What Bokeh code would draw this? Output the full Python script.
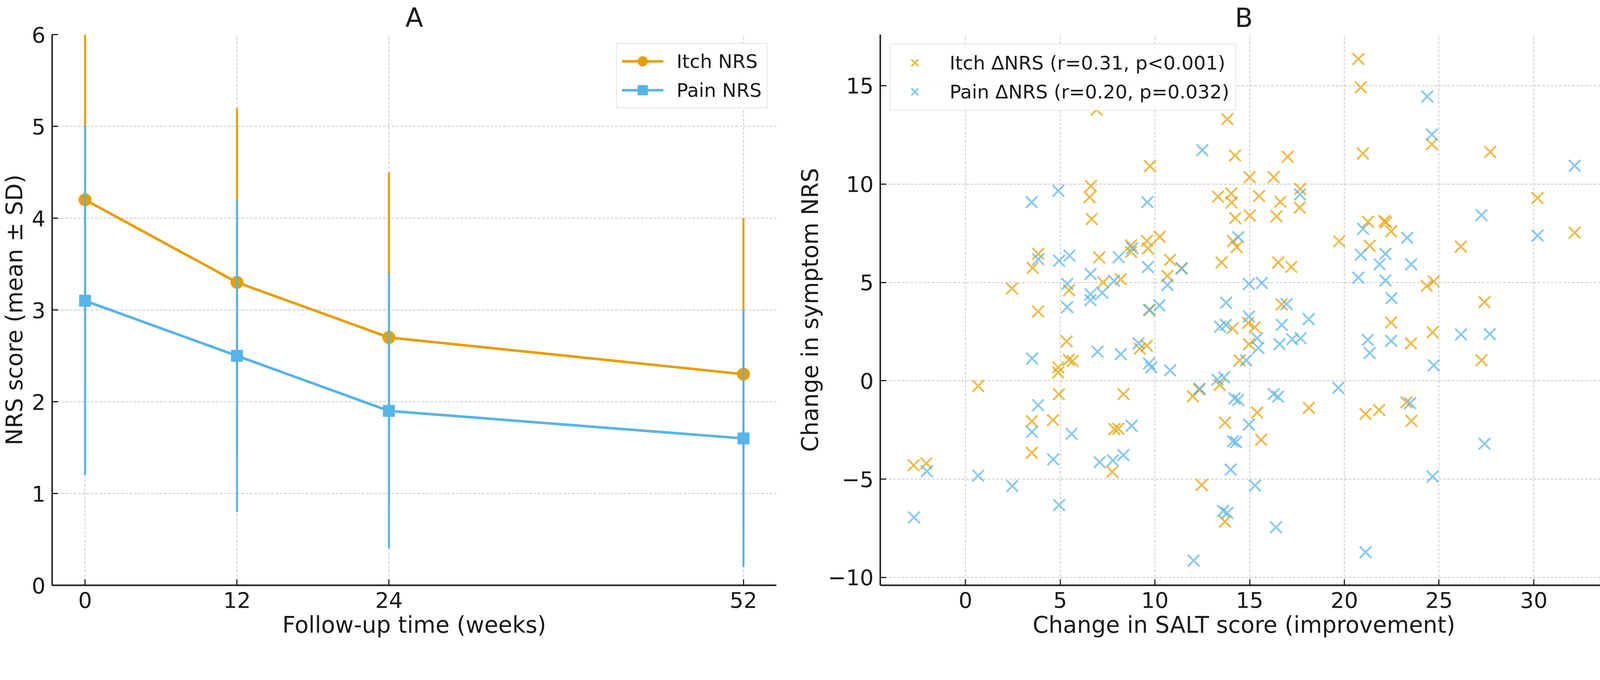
import math
from bokeh.plotting import figure
from bokeh.models import Range1d, Legend, LegendItem, FixedTicker, ColumnDataSource
from bokeh.layouts import row
from bokeh.embed import file_html
from bokeh.resources import INLINE

# ---------------- data ----------------
weeks = [0, 12, 24, 52]
itch_mean = [4.2, 3.3, 2.7, 2.3]
itch_sd = [2.0, 1.9, 1.8, 1.7]
pain_mean = [3.1, 2.5, 1.9, 1.6]
pain_sd = [1.9, 1.7, 1.5, 1.4]

itch_salt = [20.74, 20.87, 6.92, 13.82, 14.23, 20.98, 17.01, 24.62, 27.71, 9.74,
             15.0, 16.27, 6.62, 6.55, 13.33, 14.03, 14.05, 15.5, 16.62, 17.67,
             17.64, 30.2, 6.66, 14.24, 15.01, 16.42, 22.12, 22.2, 21.25, 22.47,
             32.16, 19.73, 10.25, 9.58, 8.74, 9.63, 14.12, 14.32, 21.34, 26.15,
             3.84, 3.54, 7.06, 8.74, 10.8, 11.41, 13.52, 16.51, 17.2, 10.66,
             8.2, 2.45, 7.27, 5.47, 24.35, 24.72, 27.4, 16.69, 3.83, 9.73,
             14.1, 14.92, 15.27, 22.47, 24.66, 23.52, 5.34, 9.2, 9.57, 14.97,
             5.45, 5.66, 14.47, 4.9, 4.89, 27.24, 0.67, 4.93, 8.34, 12.0,
             12.34, 13.42, 23.28, 18.13, 15.4, 21.12, 21.84, 3.5, 4.62, 13.7,
             23.54, 7.86, 8.07, 3.5, 15.61, -2.74, -2.07, 7.75, 12.47, 13.7]
itch_dnrs = [16.36, 14.92, 13.78, 13.3, 11.45, 11.55, 11.39, 12.03, 11.63, 10.91,
             10.35, 10.35, 9.9, 9.33, 9.36, 9.52, 9.06, 9.39, 9.1, 9.75,
             8.8, 9.29, 8.22, 8.27, 8.4, 8.36, 8.12, 8.05, 8.08, 7.6,
             7.53, 7.09, 7.32, 7.11, 6.88, 6.73, 7.1, 6.8, 6.86, 6.82,
             6.45, 5.74, 6.27, 6.55, 6.15, 5.72, 6.01, 6.01, 5.79, 5.33,
             5.16, 4.69, 5.0, 4.6, 4.82, 5.05, 4.0, 3.88, 3.52, 3.6,
             2.67, 2.94, 2.72, 2.96, 2.46, 1.9, 2.0, 1.63, 1.78, 1.86,
             1.06, 1.0, 1.03, 0.68, 0.42, 1.04, -0.27, -0.69, -0.68, -0.8,
             -0.45, -0.21, -1.1, -1.38, -1.62, -1.69, -1.49, -2.06, -2.0, -2.13,
             -2.04, -2.46, -2.44, -3.66, -3.0, -4.3, -4.2, -4.63, -5.3, -7.16]

pain_salt = [24.38, 24.62, 12.5, 32.16, 4.9, 3.49, 9.6, 17.66, 27.24, 30.2,
             20.99, 23.32, 14.4, 8.8, 3.84, 4.94, 5.49, 8.09, 20.87, 22.17,
             21.86, 23.53, 9.63, 11.41, 6.6, 20.74, 22.17, 5.37, 7.84, 14.96,
             15.64, 10.66, 6.6, 7.22, 6.6, 22.49, 13.76, 16.95, 5.37, 10.24,
             9.69, 14.96, 18.12, 13.44, 13.75, 16.7, 26.16, 27.68, 15.4, 17.25,
             17.69, 21.24, 22.47, 15.46, 16.58, 9.14, 3.52, 6.97, 8.2, 21.34,
             14.82, 9.69, 9.81, 10.8, 24.72, 13.3, 13.65, 19.68, 16.27, 16.5,
             14.2, 14.4, 23.47, 3.83, 3.51, 5.6, 8.77, 14.96, 14.12, 14.28,
             27.4, 4.63, 7.08, 7.78, 8.33, 14.0, 0.67, -2.04, 24.66, 2.47,
             15.28, 4.94, -2.72, 13.6, 13.82, 16.39, 12.04, 21.12, 12.36]
pain_dnrs = [14.45, 12.52, 11.72, 10.93, 9.66, 9.08, 9.08, 9.47, 8.42, 7.38,
             7.72, 7.27, 7.3, 6.74, 6.18, 6.1, 6.36, 6.28, 6.41, 6.45,
             5.92, 5.92, 5.78, 5.7, 5.43, 5.24, 5.1, 4.92, 5.08, 4.92,
             4.97, 4.87, 4.39, 4.47, 4.1, 4.2, 3.97, 3.9, 3.74, 3.83,
             3.6, 3.26, 3.13, 2.75, 2.84, 2.84, 2.35, 2.37, 2.16, 2.11,
             2.16, 2.08, 2.03, 1.67, 1.86, 1.9, 1.13, 1.48, 1.35, 1.41,
             1.04, 0.88, 0.68, 0.53, 0.78, 0.06, 0.17, -0.36, -0.68, -0.81,
             -0.9, -0.98, -1.14, -1.24, -2.6, -2.7, -2.29, -2.23, -3.08, -3.12,
             -3.2, -4.0, -4.14, -4.05, -3.78, -4.52, -4.82, -4.6, -4.87, -5.35,
             -5.33, -6.32, -6.95, -6.62, -6.72, -7.45, -9.14, -8.72, -0.4]

ITCH_C = "#E69F00"
PAIN_C = "#56B4E9"
FONT = "DejaVu Sans"
TXT = "#1a1a1a"

S = 0.955  # global size factor


def px(v):
    return v * S


def fs(v):
    return "%.1fpx" % (v * S)


def style(p, title):
    p.title.text = title
    p.title.align = "center"
    p.title.text_font = FONT
    p.title.text_font_size = fs(70)
    p.title.text_font_style = "normal"
    p.title.text_color = TXT
    p.title.standoff = px(8)
    p.outline_line_color = None
    p.background_fill_color = "white"
    p.border_fill_color = "white"
    for ax in (p.xaxis[0], p.yaxis[0]):
        ax.axis_line_width = px(4)
        ax.axis_line_color = "#1a1a1a"
        ax.major_tick_line_width = px(3)
        ax.major_tick_line_color = "#1a1a1a"
        ax.major_tick_in = int(px(16))
        ax.major_tick_out = 0
        ax.minor_tick_line_color = None
        ax.major_label_text_font = FONT
        ax.major_label_text_font_size = fs(58)
        ax.major_label_text_color = TXT
        ax.axis_label_text_font = FONT
        ax.axis_label_text_font_size = fs(61)
        ax.axis_label_text_font_style = "normal"
        ax.axis_label_text_color = TXT
    p.xaxis[0].major_label_standoff = int(px(18))
    p.xaxis[0].axis_label_standoff = int(px(8))
    for g in (p.xgrid[0], p.ygrid[0]):
        g.grid_line_color = "#b0b0b0"
        g.grid_line_dash = "7 4"
        g.grid_line_width = px(2)
        g.grid_line_alpha = 0.75


def legend_style(lg):
    lg.label_text_font = FONT
    lg.label_text_font_size = fs(51)
    lg.label_text_color = TXT
    lg.border_line_color = "#cccccc"
    lg.border_line_width = px(3)
    lg.background_fill_color = "white"
    lg.background_fill_alpha = 0.85
    lg.glyph_height = int(px(66))
    lg.spacing = int(px(12))
    lg.padding = int(px(14))
    lg.margin = int(px(24))


H = int(px(1725))

# ---------------- panel A ----------------
pA = figure(width=int(px(2128)), height=H, output_backend="svg", toolbar_location=None,
            x_range=Range1d(-2.6, 54.6), y_range=Range1d(0, 6),
            min_border_left=int(px(135)), min_border_right=int(px(48)),
            min_border_top=int(px(90)), min_border_bottom=int(px(157)))
style(pA, "A")
pA.xaxis[0].ticker = FixedTicker(ticks=weeks)
pA.yaxis[0].ticker = FixedTicker(ticks=[0, 1, 2, 3, 4, 5, 6])
pA.xaxis[0].axis_label = "Follow-up time (weeks)"
pA.yaxis[0].axis_label = "NRS score (mean \u00b1 SD)"
pA.yaxis[0].major_label_standoff = int(px(18))
pA.yaxis[0].axis_label_standoff = int(px(8))

srcA = ColumnDataSource(dict(
    x=weeks, itch=itch_mean, pain=pain_mean,
    itch_lo=[m - s for m, s in zip(itch_mean, itch_sd)],
    itch_hi=[m + s for m, s in zip(itch_mean, itch_sd)],
    pain_lo=[m - s for m, s in zip(pain_mean, pain_sd)],
    pain_hi=[m + s for m, s in zip(pain_mean, pain_sd)],
))

pA.segment(x0="x", y0="itch_lo", x1="x", y1="itch_hi", source=srcA,
           line_color=ITCH_C, line_width=px(5.5))
t_itch = pA.scatter("x", "itch", source=srcA, marker="dash", angle=math.pi / 2,
                    size=px(52), line_color=ITCH_C, fill_color=ITCH_C, line_width=px(5.5))
l_itch = pA.line("x", "itch", source=srcA, line_color=ITCH_C, line_width=px(7))
m_itch = pA.scatter("x", "itch", source=srcA, marker="circle", size=px(34),
                    fill_color=ITCH_C, line_color=ITCH_C)
pA.segment(x0="x", y0="pain_lo", x1="x", y1="pain_hi", source=srcA,
           line_color=PAIN_C, line_width=px(5.5))
t_pain = pA.scatter("x", "pain", source=srcA, marker="dash", angle=math.pi / 2,
                    size=px(52), line_color=PAIN_C, fill_color=PAIN_C, line_width=px(5.5))
l_pain = pA.line("x", "pain", source=srcA, line_color=PAIN_C, line_width=px(7))
m_pain = pA.scatter("x", "pain", source=srcA, marker="square", size=px(31),
                    fill_color=PAIN_C, line_color=PAIN_C)

legA = Legend(items=[LegendItem(label="Itch NRS", renderers=[l_itch, t_itch, m_itch]),
                     LegendItem(label="Pain NRS", renderers=[l_pain, t_pain, m_pain])],
              location="top_right")
legend_style(legA)
legA.glyph_width = int(px(112))
legA.label_standoff = int(px(36))
pA.add_layout(legA, "center")

# ---------------- panel B ----------------
pB = figure(width=int(px(2184)), height=H, output_backend="svg", toolbar_location=None,
            x_range=Range1d(-4.5, 33.9), y_range=Range1d(-10.4, 17.6),
            min_border_left=int(px(232)), min_border_right=int(px(3)),
            min_border_top=int(px(90)), min_border_bottom=int(px(157)))
style(pB, "B")
pB.xaxis[0].ticker = FixedTicker(ticks=[0, 5, 10, 15, 20, 25, 30])
pB.yaxis[0].ticker = FixedTicker(ticks=[-10, -5, 0, 5, 10, 15])
pB.yaxis[0].major_label_overrides = {-10: "\u221210", -5: "\u22125"}
pB.xaxis[0].axis_label = "Change in SALT score (improvement)"
pB.yaxis[0].axis_label = "Change in symptom NRS"
pB.yaxis[0].major_label_standoff = int(px(18))
pB.yaxis[0].axis_label_standoff = int(px(10))

s_itch = pB.scatter(itch_salt, itch_dnrs, marker="x", size=px(44), line_width=px(5),
                    line_color=ITCH_C, line_alpha=0.7)
s_pain = pB.scatter(pain_salt, pain_dnrs, marker="x", size=px(44), line_width=px(5),
                    line_color=PAIN_C, line_alpha=0.7)

legB = Legend(items=[LegendItem(label="Itch \u0394NRS (r=0.31, p<0.001)", renderers=[s_itch]),
                     LegendItem(label="Pain \u0394NRS (r=0.20, p=0.032)", renderers=[s_pain])],
              location="top_left")
legend_style(legB)
legB.glyph_width = int(px(100))
legB.label_standoff = int(px(44))
legB.padding = int(px(16))
legB.margin = int(px(26))
pB.add_layout(legB, "center")

layout = row(pA, pB, spacing=0)
open("out.html", "w").write(file_html(layout, INLINE))
